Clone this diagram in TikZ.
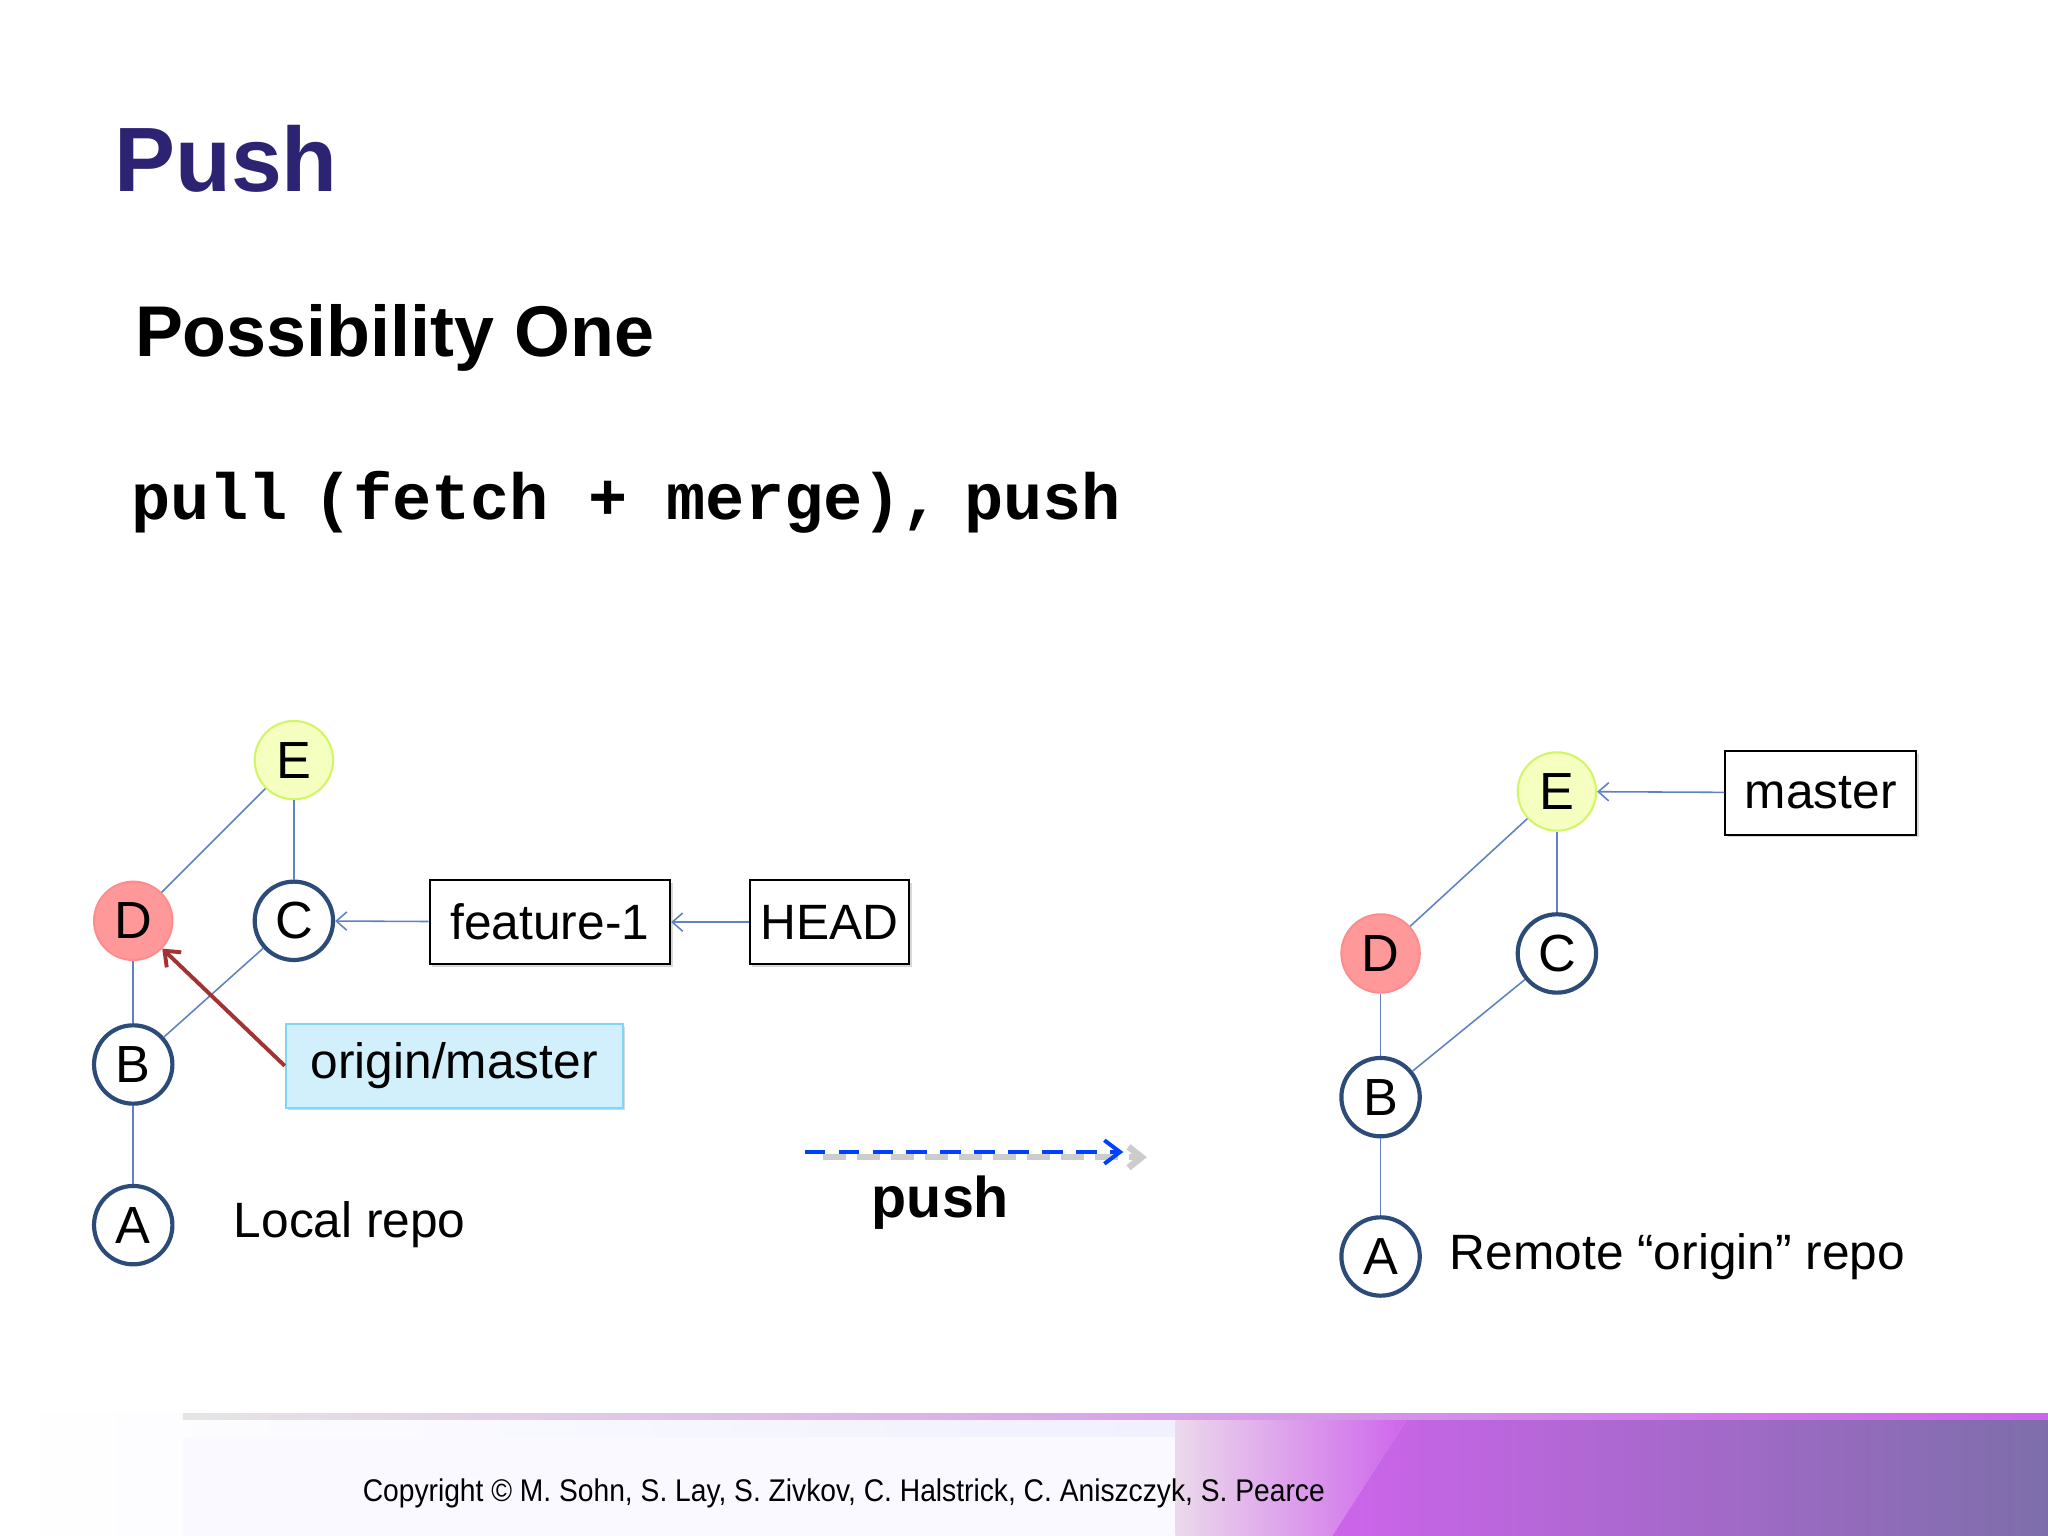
\documentclass[tikz,border=0pt]{standalone}
\usepackage{fontspec}
\setmainfont{Liberation Sans}
\setmonofont{Liberation Mono}
\usetikzlibrary{arrows.meta,shadows}
\definecolor{ttl}{RGB}{45,35,115}
\definecolor{edg}{RGB}{95,130,195}
\definecolor{nbd}{RGB}{45,75,120}
\definecolor{mag}{RGB}{205,100,235}
\definecolor{pur}{RGB}{125,110,170}
\begin{document}
\begin{tikzpicture}[x=0.5pt,y=-0.5pt,
 cnode/.style={circle,draw=nbd,line width=1.6pt,fill=white,minimum size=30pt,inner sep=0pt,font=\fontsize{20}{20}\selectfont},
 cE/.style={cnode,draw=black!20!green!30!yellow!60,line width=0.8pt,fill=green!15!yellow!25},
 cD/.style={cnode,draw=red!45,line width=0.8pt,fill=red!40},
 bx/.style={draw,line width=0.8pt,minimum height=32pt,inner sep=3pt,font=\fontsize{19}{19}\selectfont,drop shadow={opacity=0.3,shadow xshift=1pt,shadow yshift=-1pt}},
 ed/.style={draw=edg,line width=0.6pt},
 ar/.style={ed,-{Straight Barb[length=4pt,width=7pt]}},
 lbl/.style={anchor=west,font=\fontsize{19}{19}\selectfont}]
\useasboundingbox (0,0) rectangle (1568,1176);
\fill[white] (0,0) rectangle (1568,1176);
% footer band
\shade[left color=white,right color=white!60!blue!15] (0,1082) rectangle (900,1176);
\fill[white!70!blue!8] (140,1100) rectangle (900,1176);
\shade[left color=white!85!violet,right color=mag] (900,1082) -- (1080,1082) -- (1020,1176) -- (900,1176) -- cycle;
\shade[left color=mag,right color=pur] (1080,1082) -- (1568,1082) -- (1568,1176) -- (1020,1176) -- cycle;
\shade[left color=gray!20,right color=mag] (140,1082) rectangle (1568,1087);
\node[anchor=center,font=\fontsize{12}{12}\selectfont,xscale=0.9] (cp) at (646,1143) {Copyright © M. Sohn, S. Lay, S. Zivkov, C. Halstrick, C. Aniszczyk, S. Pearce};
% titles
\node[anchor=base west,inner sep=0,text=ttl,font=\fontsize{35}{35}\selectfont\bfseries] (t) at (87,147) {Push};
\node[anchor=base west,inner sep=0,font=\fontsize{27.5}{27.5}\selectfont\bfseries] (p1) at (103,273) {Possibility One};
\node[anchor=base west,inner sep=0,font=\fontsize{25}{25}\selectfont\ttfamily\bfseries] (cmd) at (100,398) {pull\hspace{-5pt} (fetch + merge),\hspace{-6pt} push};
% left graph
\node[cE] (E) at (225,582) {E};
\node[cD] (D) at (102,705) {D};
\node[cnode] (C) at (225,705) {C};
\node[cnode] (B) at (102,815) {B};
\node[cnode] (A) at (102,938) {A};
\draw[ed] (D) -- (E); \draw[ed] (C) -- (E); \draw[ed] (B) -- (D); \draw[ed] (B) -- (C); \draw[ed] (A) -- (B);
\node[bx,fill=white,minimum width=92pt] (f1) at (421,706) {feature-1};
\node[bx,fill=white,minimum width=61pt] (hd) at (635,706) {HEAD};
\draw[ar] (f1) -- (C); \draw[ar] (hd) -- (f1);
\node[bx,draw=cyan!50,fill=cyan!18,minimum width=129pt,anchor=west] (om) at (218,816) {origin/master};
\draw[draw=red!55!black!80,line width=1.5pt,-{Straight Barb[length=5pt,width=8pt]}] (om.west) -- (D);
\node[lbl] (lr) at (172,938) {Local repo};
% right graph
\node[cE] (E2) at (1192,606) {E};
\node[cD] (D2) at (1057,730) {D};
\node[cnode] (C2) at (1192,730) {C};
\node[cnode] (B2) at (1057,840) {B};
\node[cnode] (A2) at (1057,962) {A};
\draw[ed] (D2) -- (E2); \draw[ed] (C2) -- (E2); \draw[ed] (B2) -- (D2); \draw[ed] (B2) -- (C2); \draw[ed] (A2) -- (B2);
\node[bx,fill=white,minimum width=73pt] (ms) at (1394,607) {master};
\draw[ar] (ms) -- (E2);
\node[lbl] (rr) at (1103,962) {Remote “origin” repo};
% push arrow
\coordinate (g1) at (630,886); \coordinate (g2) at (878,886);
\coordinate (p1s) at (616,882); \coordinate (p1e) at (860,882);
\draw[gray!40,line width=2.5pt,dash pattern=on 9pt off 4pt,-{Straight Barb[length=5pt,width=8pt]}] (g1) -- (g2);
\draw[blue!75!cyan,line width=1.5pt,dash pattern=on 8pt off 5pt,-{Straight Barb[length=6pt,width=9pt]}] (p1s) -- (p1e);
\node[font=\fontsize{22}{22}\selectfont\bfseries] (pl) at (720,921) {push};
\end{tikzpicture}
\end{document}
